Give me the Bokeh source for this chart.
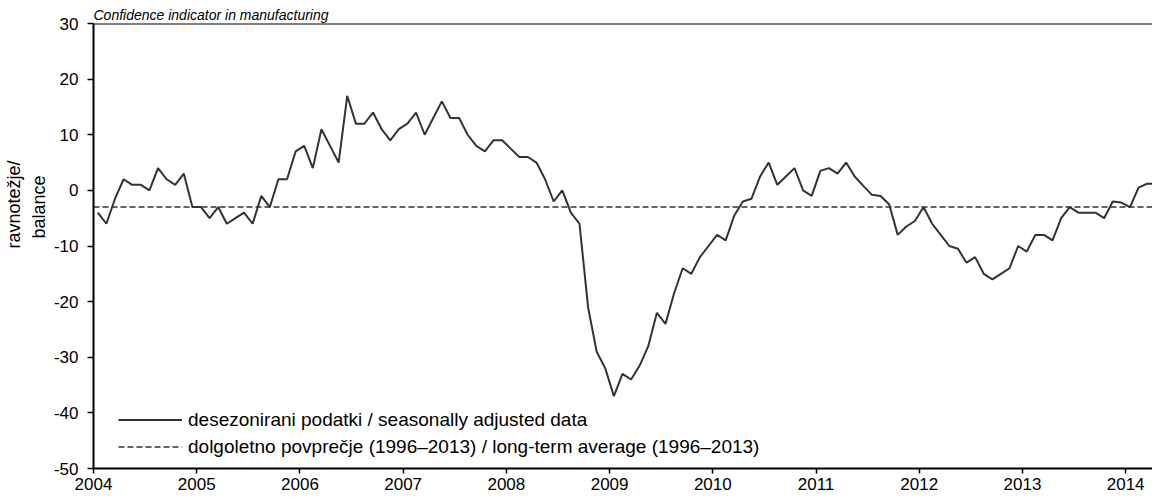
from bokeh.plotting import figure
from bokeh.models import Range1d, FixedTicker, Span, Legend, LegendItem, Title
from bokeh.embed import file_html
from bokeh.resources import INLINE

# ---------------- data ----------------
title_text = "Confidence indicator in manufacturing"
y_label_lines = ["ravnotežje/", "balance"]
legend_labels = [
    "desezonirani podatki / seasonally adjusted data",
    "dolgoletno povprečje (1996–2013) / long-term average (1996–2013)",
]
start_year = 2004
# monthly values, Jan 2004 - Apr 2014 (balance)
values = [
    -4, -6, -1.5, 2, 1, 1, 0, 4, 2, 1, 3, -3,            # 2004
    -3, -5, -3, -6, -5, -4, -6, -1, -3, 2, 2, 7,          # 2005
    8, 4, 11, 8, 5, 17, 12, 12, 14, 11, 9, 11,            # 2006
    12, 14, 10, 13, 16, 13, 13, 10, 8, 7, 9, 9,           # 2007
    7.5, 6, 6, 5, 2, -2, 0, -4, -6, -21, -29, -32,        # 2008
    -37, -33, -34, -31.5, -28, -22, -24, -18.5, -14, -15, -12, -10,  # 2009
    -8, -9, -4.5, -2, -1.5, 2.5, 5, 1, 2.5, 4, 0, -1,     # 2010
    3.5, 4, 3, 5, 2.5, 0.8, -0.8, -1, -2.5, -8, -6.5, -5.5,  # 2011
    -3, -6, -8, -10, -10.5, -13, -12, -15, -16, -15, -14, -10,  # 2012
    -11, -8, -8, -9, -5, -3, -4, -4, -4, -5, -2, -2.2,    # 2013
    -3, 0.5, 1.2, 1.2,                                    # 2014
]
long_term_average = -3
year_ticks = list(range(2004, 2015))
value_ticks = list(range(-50, 31, 10))
x_start, x_end = 2004, 2014.26
y_start, y_end = -50, 30

x = [start_year + (i + 0.5) / 12 for i in range(len(values))]

# ---------------- figure ----------------
FONT = "Liberation Sans"
p = figure(
    width=1152, height=497, output_backend="svg", toolbar_location=None,
    x_range=Range1d(x_start, x_end), y_range=Range1d(y_start, y_end),
    min_border_left=92, min_border_right=0, min_border_top=23, min_border_bottom=29,
)
p.grid.visible = False
p.outline_line_color = None
p.background_fill_color = "white"
p.border_fill_color = "white"

p.title.text = title_text
p.title.align = "left"
p.title.text_font = FONT
p.title.text_font_style = "italic"
p.title.text_font_size = "14px"
p.title.text_color = "black"
p.title.standoff = 2

for ax in (p.xaxis, p.yaxis):
    ax.axis_line_width = 2
    ax.axis_line_color = "black"
    ax.major_tick_line_width = 1.5
    ax.major_tick_line_color = "black"
    ax.minor_tick_line_color = None
    ax.major_tick_in = 0
    ax.major_label_text_font = FONT
    ax.major_label_text_font_size = "17px"
    ax.major_label_text_color = "black"

p.xaxis.ticker = FixedTicker(ticks=year_ticks)
p.xaxis.major_tick_out = 5
p.xaxis.major_label_standoff = 4
p.yaxis.ticker = FixedTicker(ticks=value_ticks)
p.yaxis.major_tick_out = 6
p.yaxis.major_label_standoff = 9
p.yaxis.major_label_overrides = {v: str(v) for v in value_ticks}
p.xaxis.major_label_overrides = {v: str(v) for v in year_ticks}

# y axis label: two stacked vertical titles on the left (top end measured from frame top)
label_top_offsets = [137, 152]
for line, off in reversed(list(zip(y_label_lines, label_top_offsets))):
    p.add_layout(Title(text=line, align="right", offset=off, standoff=3,
                       text_font=FONT, text_font_size="18px",
                       text_font_style="normal", text_color="black"), "left")

# top border line
p.add_layout(Span(location=y_end, dimension="width", line_color="black", line_width=2))

# series
r_data = p.line(x, values, line_color="#333333", line_width=2)
r_avg = p.line([x_start, x_end], [long_term_average, long_term_average],
               line_color="#333333", line_width=1.5, line_dash="6 3")

legend = Legend(
    items=[LegendItem(label=legend_labels[0], renderers=[r_data]),
           LegendItem(label=legend_labels[1], renderers=[r_avg])],
    location=(25, 8), padding=0, margin=0, spacing=0,
    glyph_width=64, glyph_height=27, label_height=27, label_standoff=6,
    border_line_color=None, background_fill_alpha=0,
    label_text_font=FONT, label_text_font_size="19px", label_text_color="black",
)
p.add_layout(legend)

open("out.html", "w").write(file_html(p, INLINE))
